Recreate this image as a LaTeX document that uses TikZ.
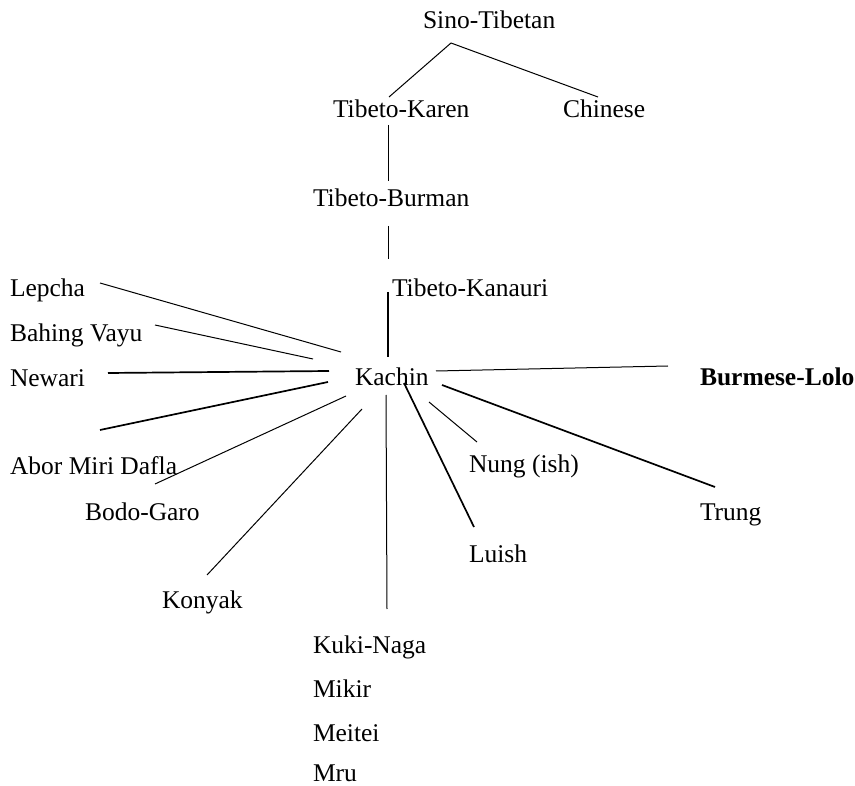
\documentclass[tikz,border=0pt]{standalone}
\usepackage{fontspec}
\setmainfont{Liberation Serif}
\begin{document}
\begin{tikzpicture}[x=1pt,y=-1pt,
  lbl/.style={anchor=base west,inner sep=0pt,outer sep=0pt,font=\fontsize{25.5}{30}\selectfont},
  link/.style={line width=1pt},
  thick link/.style={line width=1.7pt}]
\useasboundingbox (0,0) rectangle (855,786);
% labels
\node[lbl] (sino) at (423,29) {Sino-Tibetan};
\node[lbl] (tkaren) at (333,118) {Tibeto-Karen};
\node[lbl] (chinese) at (563,118) {Chinese};
\node[lbl] (tburman) at (313,207) {Tibeto-Burman};
\node[lbl] (tkanauri) at (392,297) {Tibeto-Kanauri};
\node[lbl] (kachin) at (355,386) {Kachin};
\node[lbl] (lepcha) at (10,297) {Lepcha};
\node[lbl] (bahing) at (10,342) {Bahing Vayu};
\node[lbl] (newari) at (10,387) {Newari};
\node[lbl] (abor) at (10,475) {Abor Miri Dafla};
\node[lbl] (bodo) at (85,520) {Bodo-Garo};
\node[lbl] (konyak) at (162,608) {Konyak};
\node[lbl] (kuki) at (313,653) {Kuki-Naga};
\node[lbl] (mikir) at (313,697) {Mikir};
\node[lbl] (meitei) at (313,741) {Meitei};
\node[lbl] (mru) at (313,781) {Mru};
\node[lbl,font=\fontsize{25.5}{30}\selectfont\bfseries] (burmese) at (700,386) {Burmese-Lolo};
\node[lbl] (nung) at (469,473) {Nung (ish)};
\node[lbl] (trung) at (700,520) {Trung};
\node[lbl] (luish) at (469,562) {Luish};
% connector end points
\coordinate (sinoB) at (451,43);
\coordinate (tkarenT) at (389,97);
\coordinate (chineseT) at (598,97);
\coordinate (tkarenB) at (388,125);
\coordinate (tburmanT) at (388,181);
\coordinate (tburmanB) at (388,226);
\coordinate (tkanauriT) at (388,259);
\coordinate (tkanauriL) at (388,292);
\coordinate (kachinT) at (388,357);
\coordinate (lepchaE) at (100,283);
\coordinate (kachinLa) at (341,352);
\coordinate (bahingE) at (155,325);
\coordinate (kachinLb) at (313,359);
\coordinate (newariE) at (108,373);
\coordinate (kachinLc) at (329,371);
\coordinate (aborE) at (100,430);
\coordinate (kachinLd) at (328,382);
\coordinate (bodoE) at (155,484);
\coordinate (kachinBa) at (346,396);
\coordinate (konyakE) at (207,575);
\coordinate (kachinBb) at (362,409);
\coordinate (kukiE) at (387,609);
\coordinate (kachinBc) at (386,395);
\coordinate (luishE) at (474,527);
\coordinate (kachinBd) at (404,383);
\coordinate (nungE) at (477,442);
\coordinate (kachinBe) at (429,402);
\coordinate (trungE) at (715,487);
\coordinate (kachinRa) at (442,385);
\coordinate (burmeseE) at (668,366);
\coordinate (kachinRb) at (436,371);
% connectors
\draw[link] (sinoB) -- (tkarenT);
\draw[link] (sinoB) -- (chineseT);
\draw[link] (tkarenB) -- (tburmanT);
\draw[link] (tburmanB) -- (tkanauriT);
\draw[thick link] (tkanauriL) -- (kachinT);
\draw[link] (lepchaE) -- (kachinLa);
\draw[link] (bahingE) -- (kachinLb);
\draw[thick link] (newariE) -- (kachinLc);
\draw[thick link] (aborE) -- (kachinLd);
\draw[link] (bodoE) -- (kachinBa);
\draw[link] (konyakE) -- (kachinBb);
\draw[link] (kukiE) -- (kachinBc);
\draw[thick link] (luishE) -- (kachinBd);
\draw[link] (nungE) -- (kachinBe);
\draw[thick link] (trungE) -- (kachinRa);
\draw[link] (burmeseE) -- (kachinRb);
\end{tikzpicture}
\end{document}
